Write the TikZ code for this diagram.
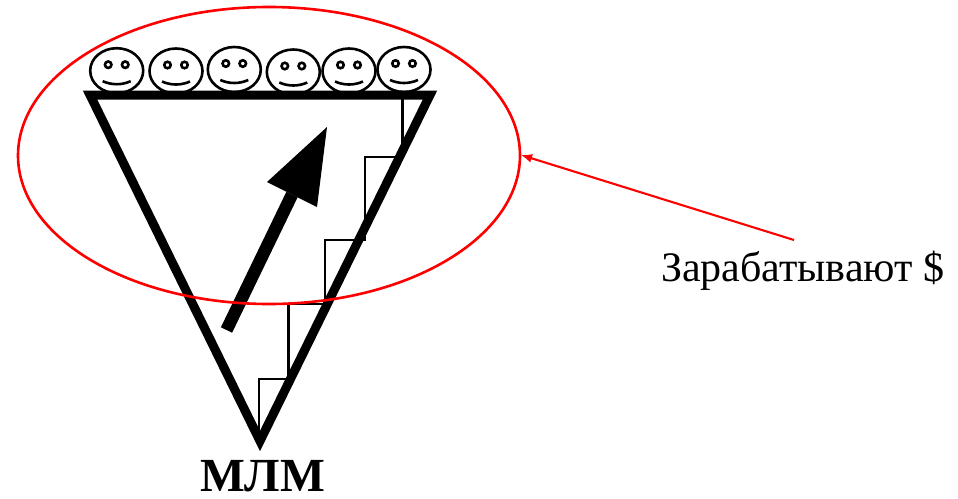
\documentclass[tikz,border=0pt]{standalone}
\usepackage{fontspec}
\setmainfont{Liberation Serif}
\usetikzlibrary{arrows.meta,shapes.geometric}
\newcommand{\smiley}[3]{%
  \node[facehead] (#1) at (#2,#3) {};
  \node[faceeye] (#1l) at (#2-8.5,#3-6) {};
  \node[faceeye] (#1r) at (#2+8.5,#3-6) {};
  \draw[line width=2.6] (#2-14,#3+10.5) .. controls (#2-5,#3+14.5) and (#2+5,#3+14.5) .. (#2+14,#3+10.5);
}
\tikzset{
  x=1pt,y=-1pt,
  facehead/.style={draw,line width=2.6,ellipse,minimum width=53pt,minimum height=45pt,inner sep=0pt,outer sep=0pt},
  faceeye/.style={draw,line width=2.6,fill=white,circle,minimum size=6.5pt,inner sep=0pt},
  thinstep/.style={line width=2.1},
  redline/.style={red,line width=2.6},
  labeltext/.style={inner sep=0pt,outer sep=0pt,anchor=base west},
}
\begin{document}
\begin{tikzpicture}
\useasboundingbox (0,0) rectangle (958,498);
\fill[white] (0,0) rectangle (958,498);
% stairs
\draw[thinstep] (259,432) -- (259,379) -- (288.5,379) -- (288.5,304) -- (325,304) -- (325,240) -- (365,240) -- (365,157) -- (402.5,157);
\draw[thinstep] (402.5,95) -- (402.5,150);
% faces
\smiley{a}{116.7}{70.7}
\smiley{b}{176}{71}
\smiley{c}{234.3}{69.5}
\smiley{d}{293.3}{72}
\smiley{e}{349}{71}
\smiley{f}{404}{69.5}
% triangle
\draw[line width=9,miter limit=10,line join=miter] (90,95) -- (430,95) -- (260,441) -- cycle;
% big arrow
\coordinate (sb) at (226.5,330);
\coordinate (hb) at (292,194.5);
\coordinate (tip) at (327,127);
\draw[line width=12.5] (sb) -- (hb);
\fill (tip) -- (267,182) -- (317,207) -- cycle;
% ellipse
\draw[redline] (269,155.5) ellipse [x radius=251,y radius=148.5];
\coordinate (arrowend) at (521,155);
\coordinate (arrowstart) at (794,240);
\draw[red,line width=2.1,-{Latex[length=11pt,width=9pt]}] (arrowstart) -- (arrowend);
% labels
\node[labeltext,font=\fontsize{42}{42}\selectfont] (zar) at (661,281) {Зарабатывают \$};
\node[labeltext,font=\fontsize{47.5}{47.5}\selectfont\bfseries] (mlm) at (200,491.5) {МЛМ};
\end{tikzpicture}
\end{document}
